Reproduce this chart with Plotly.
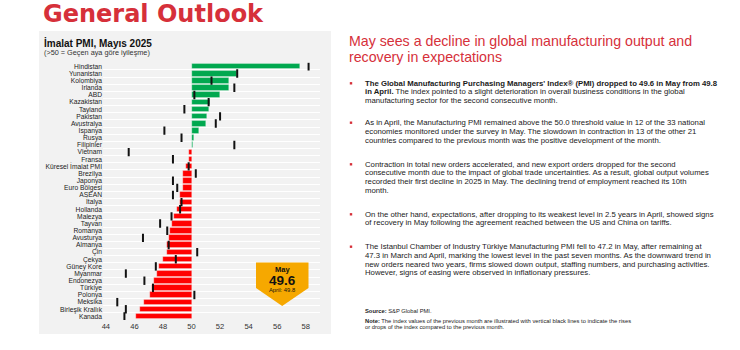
import plotly.graph_objects as go

# ---------------- data ----------------
countries = ["Hindistan", "Yunanistan", "Kolombiya", "İrlanda", "ABD", "Kazakistan", "Tayland",
             "Pakistan", "Avustralya", "İspanya", "Rusya", "Filipinler", "Vietnam", "Fransa",
             "Küresel İmalat PMI", "Brezilya", "Japonya", "Euro Bölgesi", "ASEAN", "İtalya",
             "Hollanda", "Malezya", "Tayvan", "Romanya", "Avusturya", "Almanya", "Çin", "Çekya",
             "Güney Kore", "Myanmar", "Endonezya", "Türkiye", "Polonya", "Meksika",
             "Birleşik Krallık", "Kanada"]
pmi_may = [57.6, 53.2, 52.6, 52.6, 52.0, 51.3, 51.2, 51.1, 51.0, 50.5, 50.2, 50.1, 49.8, 49.8,
           49.6, 49.4, 49.4, 49.4, 49.2, 49.2, 49.0, 48.8, 48.6, 48.5, 48.4, 48.3, 48.3, 48.0,
           47.7, 47.6, 47.4, 47.2, 47.1, 46.7, 46.4, 46.1]
pmi_april = [58.2, 53.2, 51.4, 53.0, 50.2, 51.2, 49.5, 52.0, 51.7, 48.1, 49.3, 53.0, 45.6, 48.7,
             49.8, 50.3, 48.7, 49.0, 48.7, 49.3, 49.2, 48.6, 47.8, 48.3, 46.6, 48.4, 50.4, 48.9,
             47.5, 45.4, 46.7, 47.3, 50.2, 44.8, 45.4, 45.3]
threshold = 50
x_ticks = [44, 46, 48, 50, 52, 54, 56, 58]

title = "General Outlook"
panel_title = "İmalat PMI, Mayıs 2025"
panel_sub = "(>50 = Geçen aya göre iyileşme)"
callout = ["May", "49.6", "April: 49.8"]

heading = ["May sees a decline in global manufacturing output and",
           "recovery in expectations"]
bullets = [
    ["<b>The Global Manufacturing Purchasing Managers' Index® (PMI) dropped to 49.6 in May from 49.8</b>",
     "<b>in April.</b> The index pointed to a slight deterioration in overall business conditions in the global",
     "manufacturing sector for the second consecutive month."],
    ["As in April, the Manufacturing PMI remained above the 50.0 threshold value in 12 of the 33 national",
     "economies monitored under the survey in May. The slowdown in contraction in 13 of the other 21",
     "countries compared to the previous month was the positive development of the month."],
    ["Contraction in total new orders accelerated, and new export orders dropped for the second",
     "consecutive month due to the impact of global trade uncertainties. As a result, global output volumes",
     "recorded their first decline in 2025 in May. The declining trend of employment reached its 10th",
     "month."],
    ["On the other hand, expectations, after dropping to its weakest level in 2.5 years in April, showed signs",
     "of recovery in May following the agreement reached between the US and China on tariffs."],
    ["The Istanbul Chamber of Industry Türkiye Manufacturing PMI fell to 47.2 in May, after remaining at",
     "47.3 in March and April, marking the lowest level in the past seven months. As the downward trend in",
     "new orders neared two years, firms slowed down output, staffing numbers, and purchasing activities.",
     "However, signs of easing were observed in inflationary pressures."],
]
source = "<b>Source:</b> S&P Global PMI."
note = ["<b>Note:</b> The index values of the previous month are illustrated with vertical black lines to indicate the rises",
        "or drops of the index compared to the previous month."]

# ---------------- layout helpers ----------------
W, H = 740, 350
def px(x): return x / W
def py(y): return 1 - y / H

RED = "#d6303a"
GREEN = "#00a84f"
BARRED = "#ff0000"
FONT = "Liberation Sans, Arial, sans-serif"

fig = go.Figure()
fig.add_trace(go.Bar(
    y=countries, x=[v - threshold for v in pmi_may], base=threshold, orientation="h",
    marker=dict(color=[GREEN if v >= threshold else BARRED for v in pmi_may],
                line=dict(color="rgba(255,255,255,0.6)", width=0.5)),
    width=0.78, showlegend=False, hoverinfo="skip"))
fig.add_trace(go.Scatter(
    y=countries, x=pmi_april, mode="markers",
    marker=dict(symbol="line-ns", size=6, line=dict(color="#111111", width=2)),
    showlegend=False, hoverinfo="skip"))

shapes = [
    dict(type="rect", xref="paper", yref="paper", x0=px(39), x1=px(331), y0=py(334), y1=py(31),
         fillcolor="#f2f2f2", line=dict(width=0), layer="below"),
    dict(type="path", xref="paper", yref="paper",
         path=f"M {px(256)} {py(262.5)} L {px(308.5)} {py(262.5)} L {px(308.5)} {py(288)} "
              f"L {px(282.2)} {py(306)} L {px(256)} {py(288)} Z",
         fillcolor="#f6a800", line=dict(width=0), layer="above"),
]

ann = []
def text(x, y, s, size, color="#222222", anchor="left", bold=False, family=FONT):
    ann.append(dict(x=px(x), y=py(y), xref="paper", yref="paper", text=f"<b>{s}</b>" if bold else s,
                    showarrow=False, xanchor=anchor, yanchor="middle",
                    font=dict(size=size, color=color, family=family)))

text(41, 14, title, 24, RED, bold=True, family="DejaVu Sans, sans-serif")
text(42, 42.7, panel_title, 10, "#111111", bold=True)
text(42, 52.7, panel_sub, 7.3, "#333333")
text(282.2, 269.8, callout[0], 7.5, "#111111", anchor="center", bold=True)
text(282.2, 280.6, callout[1], 13.5, "#111111", anchor="center", bold=True)
text(282.2, 290.0, callout[2], 5.8, "#111111", anchor="center")

text(347, 41, heading[0], 14.2, RED)
text(347, 56.6, heading[1], 14.2, RED)

starts = [83.3, 122.7, 164.3, 214.3, 246.7]
LS = 8.65
for b, y0 in zip(bullets, starts):
    shapes.append(dict(type="rect", xref="paper", yref="paper", x0=px(349.8), x1=px(352.2),
                       y0=py(y0 + 1.2), y1=py(y0 - 1.2), fillcolor=RED, line=dict(width=0)))
    for i, line in enumerate(b):
        text(362.5, y0 + i * LS, line, 7.75, "#1a1a1a")

text(362.5, 310.7, source, 5.8, "#222222")
text(362.5, 321, note[0], 5.8, "#222222")
text(362.5, 326.9, note[1], 5.8, "#222222")

fig.update_layout(
    width=W, height=H, margin=dict(l=0, r=0, t=0, b=0),
    paper_bgcolor="white", plot_bgcolor="rgba(0,0,0,0)",
    shapes=shapes, annotations=ann, bargap=0,
    xaxis=dict(domain=[px(103), px(320)], range=[43.8, 59.0], tickvals=x_ticks,
               showgrid=False, zeroline=False, showline=False, ticks="",
               tickfont=dict(size=7.6, color="#333333", family=FONT)),
    yaxis=dict(domain=[py(320), py(62.8)], type="category",
               range=[len(countries) - 0.5, -0.5],
               tickmode="array", tickvals=countries, ticktext=countries,
               tickson="boundaries", showgrid=True, gridcolor="white", gridwidth=1,
               ticks="", showline=False, zeroline=False,
               tickfont=dict(size=6.7, color="#222222", family=FONT)),
)
fig.write_html("out.html")
